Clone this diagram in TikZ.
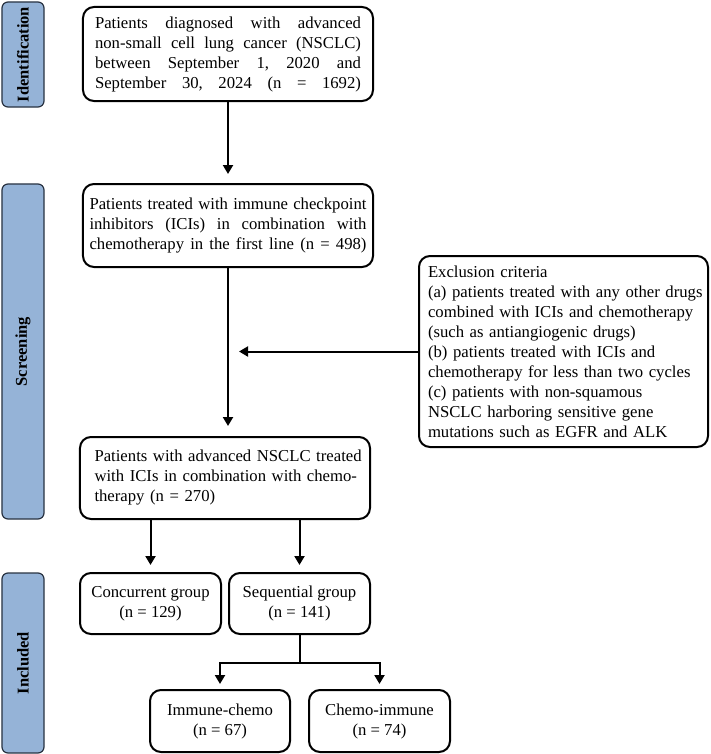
\documentclass[tikz,border=0pt]{standalone}
\usepackage{fontspec}
\setmainfont{Liberation Serif}
\usetikzlibrary{arrows.meta}
\hfuzz=30pt
\hbadness=10000
\definecolor{sidecol}{RGB}{149,179,215}
\definecolor{sideline}{RGB}{40,50,65}
\newcommand{\jline}[2]{\leavevmode\hbox to #1{#2}}
\tikzset{
  box/.style={draw, line width=2bp, rounded corners=11bp, inner sep=0pt,
    font=\fontsize{16.7bp}{20bp}\selectfont},
  sidebar/.style={draw=sideline, fill=sidecol, line width=1.2bp, rounded corners=6bp,
    inner sep=0pt, rotate=90, font=\fontsize{16.5bp}{20bp}\selectfont\bfseries},
  arr/.style={-{Triangle[length=9bp,width=10bp]}, line width=2bp},
  plain/.style={line width=2bp},
}
\begin{document}
\begin{tikzpicture}[x=1bp,y=-1bp]
\useasboundingbox (0,0) rectangle (711,754);

% side bars
\node[sidebar, minimum width=105bp, minimum height=42bp] (s1) at (23,54.5) {Identification};
\node[sidebar, minimum width=335bp, minimum height=42bp] (s2) at (23,351.5) {Screening};
\node[sidebar, minimum width=180bp, minimum height=42bp] (s3) at (23,663) {Included};

% boxes
\node[box, minimum width=290bp, minimum height=94bp, text width=266bp, align=left] (b1) at (228,54)
  {\jline{266bp}{Patients\hfill diagnosed\hfill with\hfill advanced}\\
   \jline{266bp}{non-small\hfill cell\hfill lung\hfill cancer\hfill (NSCLC)}\\
   \jline{266bp}{between\hfill September\hfill 1,\hfill 2020\hfill and}\\
   \jline{266bp}{September\hfill 30,\hfill 2024\hfill (n\hfill =\hfill 1692)}};

\node[box, minimum width=290bp, minimum height=83bp, text width=277bp, align=left] (b2) at (228,225.5)
  {\jline{277bp}{Patients\hfill treated\hfill with\hfill immune\hfill checkpoint}\\
   \jline{277bp}{inhibitors\hfill (ICIs)\hfill in\hfill combination\hfill with}\\
   \jline{277bp}{chemotherapy\hfill in\hfill the\hfill first\hfill line\hfill (n\hfill =\hfill 498)}};

\node[box, minimum width=289bp, minimum height=191bp, text width=271bp, align=left] (ex) at (563.5,351.5)
  {\mbox{Exclusion criteria}\\
   \mbox{(a) patients treated with any other drugs}\\
   \mbox{combined with ICIs and chemotherapy}\\
   \mbox{(such as antiangiogenic drugs)}\\
   \mbox{(b) patients treated with ICIs and}\\
   \mbox{chemotherapy for less than two cycles}\\
   \mbox{(c) patients with non-squamous}\\
   \mbox{NSCLC harboring sensitive gene}\\
   \mbox{mutations such as EGFR and ALK}};

\node[box, minimum width=290bp, minimum height=82bp, text width=261bp, align=left] (b3) at (225,478)
  {\mbox{Patients with advanced NSCLC treated}\\
   \mbox{with ICIs in combination with chemo-}\\
   \mbox{therapy (n = 270)}};

\node[box, minimum width=141bp, minimum height=61bp, align=center] (con) at (150.5,603.5)
  {Concurrent group\\(n = 129)};
\node[box, minimum width=141bp, minimum height=61bp, align=center] (seq) at (299.5,603.5)
  {Sequential group\\(n = 141)};
\node[box, minimum width=140bp, minimum height=62bp, align=center] (ic) at (220,721)
  {Immune-chemo\\(n = 67)};
\node[box, minimum width=141bp, minimum height=62bp, align=center] (ci) at (379.5,721)
  {Chemo-immune\\(n = 74)};

% connectors
\draw[arr, shorten >=9bp] (b1.south) -- (b2.north);
\draw[arr, shorten >=10bp] (b2.south) -- (b2.south |- b3.north);
\draw[arr, shorten >=11bp] (ex.west) -- (b2.south |- ex.west);
\draw[arr, shorten >=7bp] (con.north |- b3.south) -- (con.north);
\draw[arr, shorten >=7bp] (seq.north |- b3.south) -- (seq.north);
\coordinate (split) at (299.5,663);
\draw[plain] (seq.south) -- (split);
\draw[arr, shorten >=5bp] (split) -| (ic.north);
\draw[arr, shorten >=5bp] (split) -| (ci.north);
\end{tikzpicture}
\end{document}
